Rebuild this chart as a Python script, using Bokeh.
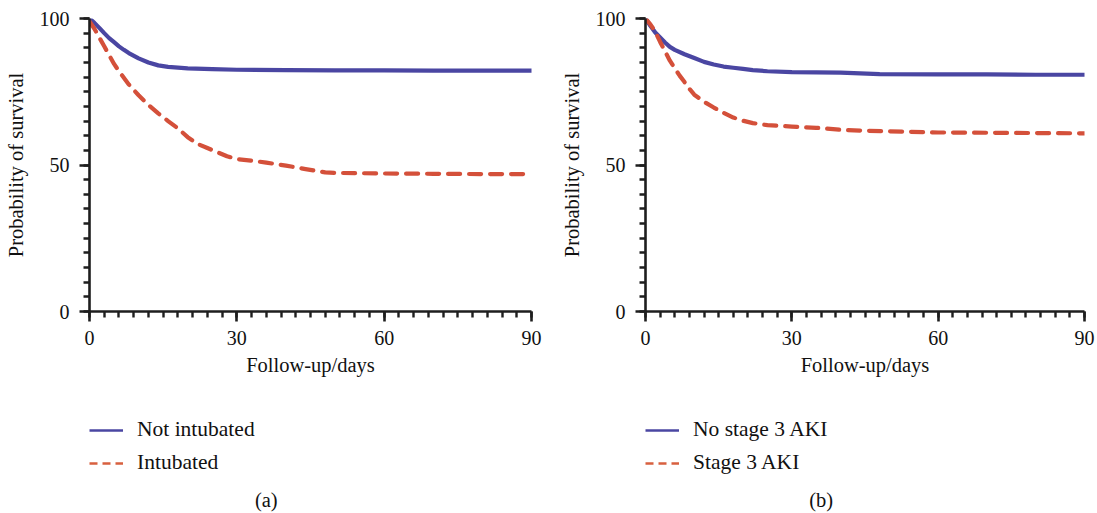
from bokeh.plotting import figure
from bokeh.models import FixedTicker, Legend, LegendItem, Label, Range1d
from bokeh.layouts import row, column
from bokeh.embed import file_html
from bokeh.resources import INLINE

# ---------------- data ----------------
a_blue_days = [0, 1, 2, 3, 4, 5, 6, 7, 8, 10, 12, 14, 16, 20, 25, 30, 40, 50, 60, 70, 80, 90]
a_blue_surv = [100, 98.5, 96.8, 95.0, 93.3, 91.9, 90.5, 89.3, 88.2, 86.4, 85.0, 84.0, 83.5, 83.0, 82.7, 82.5, 82.4, 82.3, 82.3, 82.2, 82.2, 82.2]

a_red_days = [0, 1, 2, 3, 4, 5, 6, 8, 10, 12, 14, 16, 18, 20, 22, 24, 26, 28, 30, 33, 36, 40, 44, 48, 50, 60, 70, 80, 90]
a_red_surv = [99, 96.5, 93.5, 90.5, 87.5, 84.5, 82.0, 77.5, 73.8, 70.5, 67.6, 65.0, 62.5, 59.5, 57.2, 55.8, 54.4, 53.0, 52.0, 51.5, 50.8, 49.8, 48.6, 47.5, 47.3, 47.1, 47.0, 46.9, 46.9]

b_blue_days = [0, 1, 2, 3, 4, 5, 6, 8, 10, 12, 14, 16, 18, 20, 22, 25, 30, 40, 48, 60, 70, 80, 90]
b_blue_surv = [100, 97.5, 95.2, 93.5, 91.8, 90.3, 89.3, 87.8, 86.5, 85.2, 84.3, 83.6, 83.2, 82.8, 82.4, 82.0, 81.7, 81.5, 81.0, 80.9, 80.9, 80.8, 80.8]

b_red_days = [0, 1, 2, 3, 4, 5, 6, 7, 8, 9, 10, 12, 14, 16, 18, 20, 22, 25, 30, 35, 40, 45, 50, 60, 70, 80, 90]
b_red_surv = [100, 98.0, 95.5, 92.0, 88.8, 85.6, 83.0, 80.5, 78.3, 76.0, 74.0, 71.6, 69.6, 67.8, 66.2, 65.1, 64.3, 63.6, 63.1, 62.7, 62.0, 61.7, 61.5, 61.1, 61.0, 60.9, 60.8]

x_major = [0, 30, 60, 90]
x_minor = list(range(0, 91, 3))
y_major = [0, 50, 100]
y_minor = list(range(0, 101, 5))

FONT = "Liberation Serif"
BLUE = "#4a46a2"
RED = "#d4503a"
AXIS = "#1e1e1e"
TXT = "#111111"

PLOT_H = 380
LEG_H = 513 - PLOT_H


def make_panel(width, left, right, blue_days, blue_surv, red_days, red_surv,
               blue_label, red_label, caption):
    p = figure(width=width, height=PLOT_H, x_range=Range1d(0, 90), y_range=Range1d(0, 100),
               output_backend="svg", toolbar_location=None,
               min_border_left=left, min_border_right=right,
               min_border_top=18, min_border_bottom=PLOT_H - 311)
    p.grid.visible = False
    p.outline_line_color = None
    p.background_fill_color = "white"
    p.border_fill_color = "white"

    for ax, maj, mino in ((p.xaxis[0], x_major, x_minor), (p.yaxis[0], y_major, y_minor)):
        ax.ticker = FixedTicker(ticks=maj, minor_ticks=mino)
        ax.axis_line_width = 2.6
        ax.axis_line_color = AXIS
        ax.major_tick_line_width = 2.6
        ax.major_tick_line_color = AXIS
        ax.minor_tick_line_width = 2.4
        ax.minor_tick_line_color = AXIS
        ax.major_tick_in = 0
        ax.minor_tick_in = 0
        ax.major_tick_out = 10
        ax.minor_tick_out = 6
        ax.major_label_text_font = FONT
        ax.major_label_text_font_size = "20px"
        ax.major_label_text_color = TXT
        ax.axis_label_text_font = FONT
        ax.axis_label_text_font_size = "20.5px"
        ax.axis_label_text_font_style = "normal"
        ax.axis_label_text_color = TXT
    p.xaxis.axis_label = "Follow-up/days"
    p.yaxis.axis_label = "Probability of survival"
    p.xaxis.major_label_standoff = 9
    p.xaxis.axis_label_standoff = 6
    p.yaxis.major_label_standoff = 10
    p.yaxis.axis_label_standoff = 10

    p.line(x=blue_days, y=blue_surv, line_color=BLUE, line_width=4.2,
           line_join="round", line_cap="round")
    p.line(x=red_days, y=red_surv, line_color=RED, line_width=4.2,
           line_dash="12 9", line_join="round", line_cap="round")

    # legend + caption strip below the plot (its frame is aligned with the plot's frame)
    q = figure(width=width, height=LEG_H, x_range=Range1d(0, 1), y_range=Range1d(0, LEG_H),
               output_backend="svg", toolbar_location=None,
               x_axis_type=None, y_axis_type=None,
               min_border_left=0, min_border_right=0, min_border_top=0, min_border_bottom=0)
    q.grid.visible = False
    q.outline_line_color = None
    q.background_fill_color = "white"
    q.border_fill_color = "white"
    lb = q.line(x=blue_days, y=blue_surv, line_color=BLUE, line_width=2.6, visible=False)
    lr = q.line(x=red_days, y=red_surv, line_color="#d8603f", line_width=2.6,
                line_dash="8 5", visible=False)
    legend = Legend(items=[LegendItem(label=blue_label, renderers=[lb]),
                           LegendItem(label=red_label, renderers=[lr])],
                    location=(0, 38), orientation="vertical",
                    glyph_width=34, glyph_height=20, label_height=20,
                    label_standoff=14, spacing=8, padding=0, margin=0,
                    border_line_color=None, background_fill_alpha=0,
                    inactive_fill_alpha=0,
                    label_text_font=FONT, label_text_font_size="21.5px",
                    label_text_color=TXT)
    q.add_layout(legend)
    q.add_layout(Label(x=0.40, y=513 - 499, text=caption, text_align="center",
                       text_baseline="middle", text_font=FONT,
                       text_font_size="20.5px", text_color=TXT))
    return column(p, q)


pa = make_panel(548, 89, 17, a_blue_days, a_blue_surv, a_red_days, a_red_surv,
                "Not intubated", "Intubated", "(a)")
pb = make_panel(549, 97, 13, b_blue_days, b_blue_surv, b_red_days, b_red_surv,
                "No stage 3 AKI", "Stage 3 AKI", "(b)")

layout = row(pa, pb)
open("out.html", "w").write(file_html(layout, INLINE))
